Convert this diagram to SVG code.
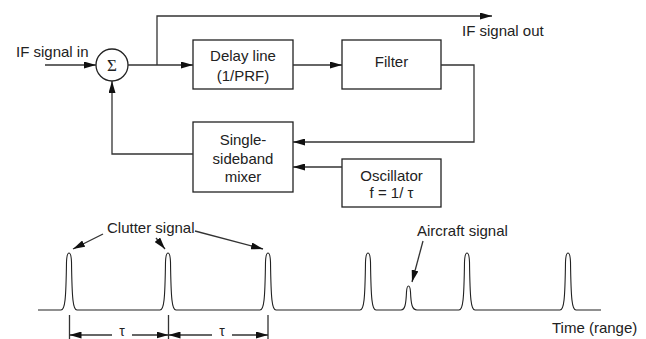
<svg xmlns="http://www.w3.org/2000/svg" width="646" height="339" viewBox="0 0 646 339">
<defs>
<marker id="ah" markerWidth="13" markerHeight="7" refX="12" refY="3.5" orient="auto" markerUnits="userSpaceOnUse">
<path d="M0,0 L12,3.5 L0,7 Z" fill="#111"/>
</marker>
<style>
.t{font-family:"Liberation Sans",Arial,sans-serif;font-size:15px;fill:#222}
.m{text-anchor:middle}
.b{fill:#fff;stroke:#222;stroke-width:1.3}
.c{fill:none;stroke:#333;stroke-width:1.3}
.w{fill:none;stroke:#222;stroke-width:1.1}
</style>
</defs>
<rect width="646" height="339" fill="#fff"/>

<g id="sum">
<circle cx="112" cy="65" r="16" class="b"/>
<text x="112" y="71" class="m" style="font-family:'Liberation Serif',serif;font-size:17px;fill:#222">Σ</text>
</g>
<g id="delay">
<rect x="193" y="40" width="100" height="49" class="b"/>
<text x="243" y="61" class="t m">Delay line</text>
<text x="243" y="81" class="t m">(1/PRF)</text>
</g>
<g id="filter">
<rect x="342" y="40" width="99" height="49" class="b"/>
<text x="391.5" y="67" class="t m">Filter</text>
</g>
<g id="mixer">
<rect x="193" y="122" width="100" height="70" class="b"/>
<text x="243" y="145" class="t m">Single-</text>
<text x="243" y="163.5" class="t m">sideband</text>
<text x="243" y="182" class="t m">mixer</text>
</g>
<g id="oscillator">
<rect x="342" y="159" width="99" height="48" class="b"/>
<text x="391.5" y="181" class="t m">Oscillator</text>
<text x="391.5" y="198" class="t m">f = 1/ τ</text>
</g>

<g id="labels">
<text x="16" y="57" class="t">IF signal in</text>
<text x="462" y="36" class="t">IF signal out</text>
</g>

<g id="connectors">
<path d="M45,65 H96" class="c" marker-end="url(#ah)"/>
<path d="M128,65 H193" class="c" marker-end="url(#ah)"/>
<path d="M157,65 V16 H492" class="c" marker-end="url(#ah)"/>
<path d="M293,65 H342" class="c" marker-end="url(#ah)"/>
<path d="M441,65 H474 V142 H293" class="c" marker-end="url(#ah)"/>
<path d="M342,167 H293" class="c" marker-end="url(#ah)"/>
<path d="M193,154 H112 V81" class="c" marker-end="url(#ah)"/>
</g>

<g id="waveform">
<path class="w" d="M38,310 H61 C65,310 66,299 66.5,262 C67,250 71,250 71.5,262 C72,299 73,310 77,310
H160 C164,310 165,299 165.5,262 C166,250 170,250 170.5,262 C171,299 172,310 176,310
H260 C264,310 265,299 265.5,262 C266,250 270,250 270.5,262 C271,299 272,310 276,310
H360 C364,310 365,299 365.5,262 C366,250 370,250 370.5,262 C371,299 372,310 376,310
H401 C405,310 406,304 406.5,292 C407,284 410,284 410.5,292 C411,304 412,310 417,310
H459 C463,310 464,299 464.5,262 C465,250 469,250 469.5,262 C470,299 471,310 475,310
H560 C564,310 565,299 565.5,262 C566,250 570,250 570.5,262 C571,299 572,310 576,310 H601"/>
</g>

<g id="annotations">
<text x="107" y="233" class="t">Clutter signal</text>
<path d="M103,234 L73,249" class="c" marker-end="url(#ah)"/>
<path d="M156,238 L165,249" class="c" marker-end="url(#ah)"/>
<path d="M195,231 L263,249" class="c" marker-end="url(#ah)"/>
<text x="417" y="236" class="t">Aircraft signal</text>
<path d="M423,241 L412,282" class="c" marker-end="url(#ah)"/>
<text x="552" y="333" class="t">Time (range)</text>
</g>

<g id="dimensions">
<path d="M69.5,315 V339 M168.5,315 V339 M268,315 V339" class="c"/>
<path d="M112,335 H69.5" class="c" marker-end="url(#ah)"/>
<path d="M132,335 H168.5" class="c" marker-end="url(#ah)"/>
<path d="M212,335 H168.5" class="c" marker-end="url(#ah)"/>
<path d="M232,335 H268" class="c" marker-end="url(#ah)"/>
<text x="122" y="336" class="t m" style="font-size:14px">τ</text>
<text x="222" y="336" class="t m" style="font-size:14px">τ</text>
</g>
</svg>
